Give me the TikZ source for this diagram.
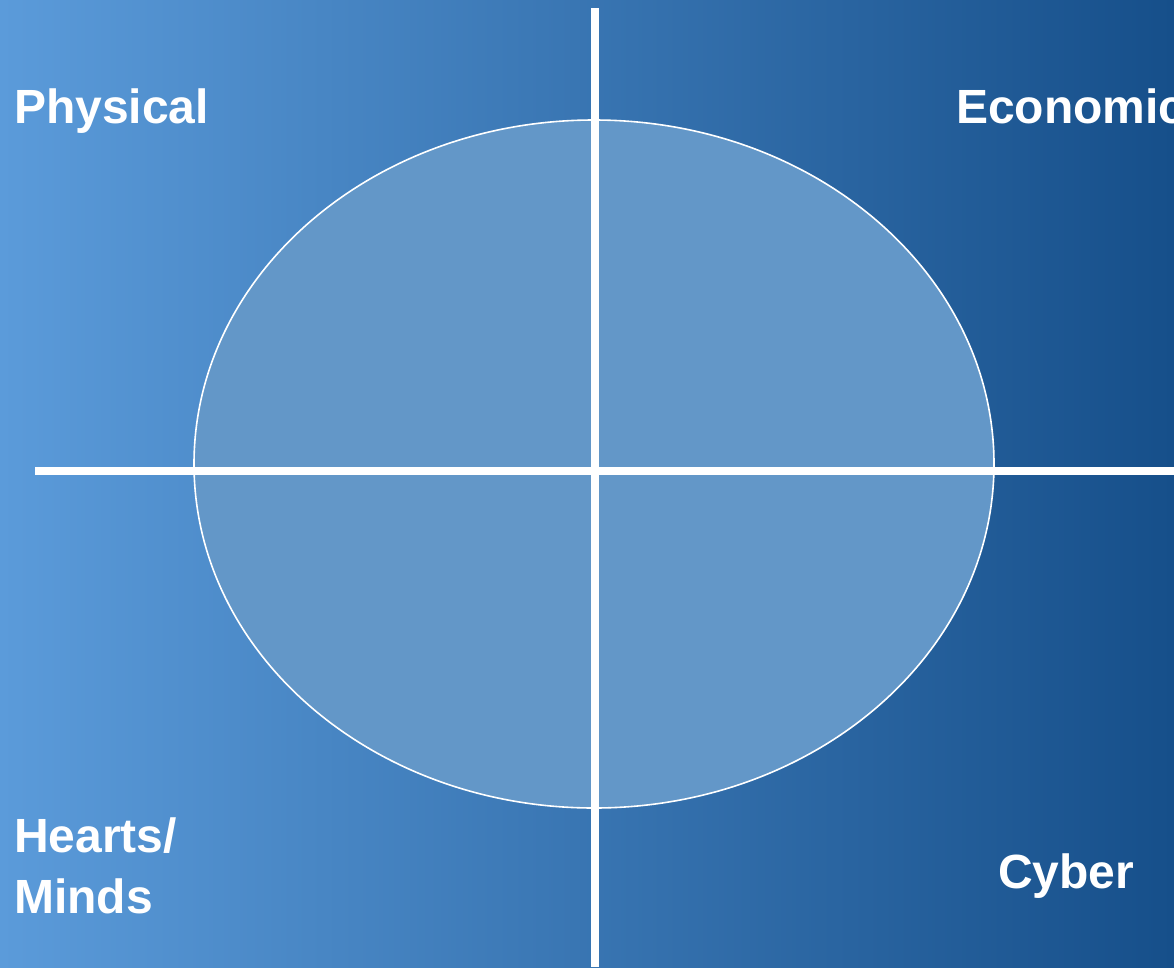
\documentclass[tikz,border=0pt]{standalone}
\usepackage{fontspec}
\setmainfont{Liberation Sans}
\definecolor{bgleft}{HTML}{5B9BDA}
\definecolor{bgright}{HTML}{164F8A}
\definecolor{ellfill}{HTML}{6397C8}
\begin{document}
\begin{tikzpicture}[x=1pt,y=-1pt,
  lbl/.style={anchor=base west,inner sep=0pt,text=white,font=\fontsize{48}{61}\selectfont\bfseries,align=left},
  axis/.style={draw=white,line width=7.5pt}]
\useasboundingbox (0,0) rectangle (1174,967);
\shade[left color=bgleft,right color=bgright] (0,0) rectangle (1174,967);
\draw[white,line width=1.6pt,fill=ellfill] (594,464) ellipse [x radius=400,y radius=344];
\coordinate (vtop) at (595,8);
\coordinate (vbot) at (595,967);
\coordinate (hl) at (35,471);
\coordinate (hr) at (1174,471);
\draw[axis] (vtop) -- (vbot);
\draw[axis] (hl) -- (hr);
\begin{scope}
\clip (0,0) rectangle (1174,967);
\node[lbl] (phys) at (14,123) {Physical};
\node[lbl] (econ) at (956,123) {Economic};
\node[lbl] (hearts) at (14,913) {Hearts/\\Minds};
\node[lbl] (cyber) at (998,888) {Cyber};
\end{scope}
\end{tikzpicture}
\end{document}
